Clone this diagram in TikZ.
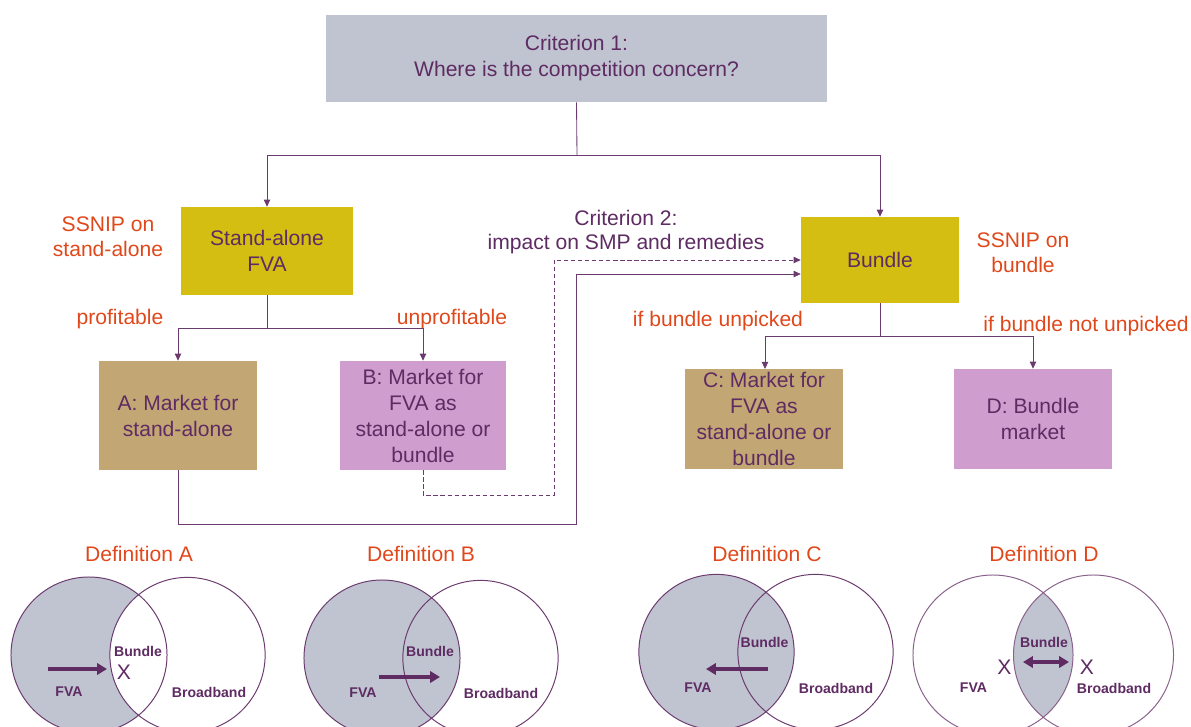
\documentclass[tikz,border=0pt]{standalone}
\usepackage{fontspec}
\setmainfont{Liberation Sans}
\usetikzlibrary{arrows.meta}
\definecolor{critgray}{HTML}{BFC4D0}
\definecolor{olive}{HTML}{D4BE12}
\definecolor{tan}{HTML}{C2A774}
\definecolor{lilac}{HTML}{CF9ECF}
\definecolor{txtpurple}{HTML}{5E2B63}
\definecolor{linepurple}{HTML}{6B3A6E}
\definecolor{orangered}{HTML}{E0481B}
\tikzset{
  box/.style={rectangle,inner sep=2pt,align=center,text=txtpurple,font=\fontsize{15}{18.5}\selectfont},
  conn/.style={draw=linepurple,line width=0.6pt,-{Triangle[length=5pt,width=4.5pt]}},
  lbl/.style={text=orangered,align=center,font=\fontsize{15}{18}\selectfont},
  ring/.style={draw=linepurple,line width=0.7pt},
  vtxt/.style={text=txtpurple,font=\bfseries\fontsize{10}{12}\selectfont},
  cross/.style={text=txtpurple,font=\fontsize{15}{15}\selectfont},
  shiftarrow/.style={draw=txtpurple,line width=2.4pt,-{Triangle[length=7pt,width=8pt]}}
}
\begin{document}
\begin{tikzpicture}[x=0.025cm,y=-0.025cm]
  \useasboundingbox (0,0) rectangle (1191,726);
  % boxes
  \node[box,fill=critgray,minimum width=12.525cm,minimum height=2.175cm] (crit1) at (576.5,58.5) {Criterion 1:\\Where is the competition concern?};
  \node[box,fill=olive,minimum width=4.3cm,minimum height=2.2cm] (sa) at (267,251) {Stand-alone\\FVA};
  \node[box,fill=olive,minimum width=3.95cm,minimum height=2.15cm] (bundle) at (880,260) {Bundle};
  \node[box,fill=tan,minimum width=3.95cm,minimum height=2.725cm] (mkta) at (178,415.5) {A: Market for\\stand-alone};
  \node[box,fill=lilac,minimum width=4.15cm,minimum height=2.725cm] (mktb) at (423,415.5) {B: Market for\\FVA as\\stand-alone or\\bundle};
  \node[box,fill=tan,minimum width=3.95cm,minimum height=2.5cm] (mktc) at (764,419) {C: Market for\\FVA as\\stand-alone or\\bundle};
  \node[box,fill=lilac,minimum width=3.95cm,minimum height=2.5cm] (mktd) at (1033,419) {D: Bundle\\market};
  % labels
  \node[lbl] (ssnipsa) at (108,237) {SSNIP on\\stand-alone};
  \node[lbl] (ssnipb) at (1023,253) {SSNIP on\\bundle};
  \node[lbl] (prof) at (120,319) {profitable};
  \node[lbl] (unprof) at (452,319) {unprofitable};
  \node[lbl] (unpicked) at (718,321) {if bundle unpicked};
  \node[lbl] (notunpicked) at (1086,326) {if bundle not unpicked};
  \node[box,font=\fontsize{15}{16.5}\selectfont] (crit2) at (626,232) {Criterion 2:\\impact on SMP and remedies};
  % connectors
  \coordinate (split1) at (577,155);
  \coordinate (split2) at (267,328);
  \coordinate (split3) at (880,336);
  \draw[conn,-] (crit1.south) -- (split1);
  \draw[conn] (split1) -| (sa.north);
  \draw[conn] (split1) -| (bundle.north);
  \draw[conn,-] (sa.south) -- (split2);
  \draw[conn] (split2) -| (mkta.north);
  \draw[conn] (split2) -| (mktb.north);
  \draw[conn,-] (bundle.south) -- (split3);
  \draw[conn] (split3) -| (765,369);
  \draw[conn] (split3) -| (mktd.north);
  \coordinate (loopa) at (576,524);
  \coordinate (loopb) at (554,495);
  \draw[conn] (mkta.south) |- (loopa) |- ([yshift=-0.35cm]bundle.west);
  \draw[conn,dashed,dash pattern=on 3pt off 2pt] (mktb.south) |- (loopb) |- (bundle.west);
  % definitions
  \node[lbl] (defa) at (139,554) {Definition A};
  \node[lbl] (defb) at (421,554) {Definition B};
  \node[lbl] (defc) at (767,554) {Definition C};
  \node[lbl] (defd) at (1044,554) {Definition D};
  % Venn A
  \begin{scope}
    \clip (89,655) circle (1.95cm);
    \fill[critgray,even odd rule] (89,655) circle (1.95cm) (187.5,655) circle (1.94cm);
  \end{scope}
  \draw[ring] (89,655) circle (1.95cm) (187.5,655) circle (1.94cm);
  \draw[shiftarrow] (48,669) -- (107,669);
  \node[vtxt] (bunda) at (138,651) {Bundle};
  \node[cross] (xa) at (124,672) {X};
  \node[vtxt] (fvaa) at (69,692) {FVA};
  \node[vtxt] (bba) at (209,692) {Broadband};
  % Venn B
  \fill[critgray] (382,658) circle (1.95cm);
  \draw[ring] (382,658) circle (1.95cm) (480.5,658) circle (1.94cm);
  \draw[shiftarrow] (379,677) -- (440,677);
  \node[vtxt] (bundb) at (430,651) {Bundle};
  \node[vtxt] (fvab) at (363,693) {FVA};
  \node[vtxt] (bbb) at (501,693) {Broadband};
  % Venn C
  \fill[critgray] (716.5,652) circle (1.94cm);
  \draw[ring] (716.5,652) circle (1.94cm) (815.5,652) circle (1.94cm);
  \draw[shiftarrow] (768,669) -- (706,669);
  \node[vtxt] (bundc) at (764.5,642) {Bundle};
  \node[vtxt] (fvac) at (698,688) {FVA};
  \node[vtxt] (bbc) at (836,688) {Broadband};
  % Venn D
  \begin{scope}
    \clip (993,655) circle (2cm);
    \fill[critgray] (1093.5,655) circle (2cm);
  \end{scope}
  \draw[ring,draw=linepurple!80] (993,655) circle (2cm) (1093.5,655) circle (2cm);
  \draw[shiftarrow,{Triangle[length=7pt,width=8pt]}-{Triangle[length=7pt,width=8pt]}] (1023,662) -- (1069,662);
  \node[vtxt] (bundd) at (1044,642) {Bundle};
  \node[cross] (xd1) at (1004.5,667) {X};
  \node[cross] (xd2) at (1087,667) {X};
  \node[vtxt] (fvad) at (973.5,688) {FVA};
  \node[vtxt] (bbd) at (1114,688) {Broadband};
\end{tikzpicture}
\end{document}
